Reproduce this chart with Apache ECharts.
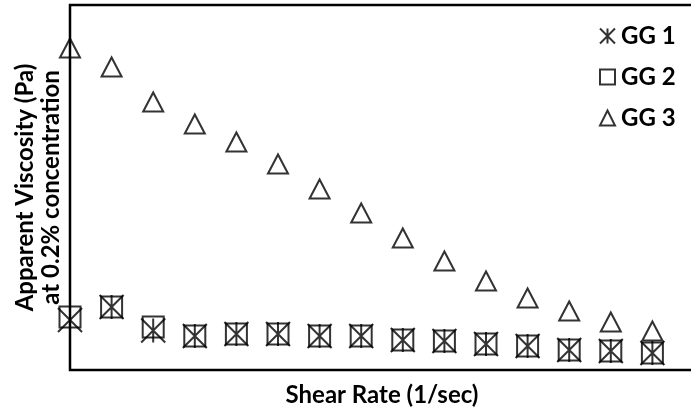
<!DOCTYPE html>
<html>
<head>
<meta charset="utf-8">
<script src="https://cdn.jsdelivr.net/npm/echarts@6/dist/echarts.min.js"></script>
<style>
  html, body { margin: 0; padding: 0; background: #fff; }
  #chart { width: 691px; height: 410px; }
</style>
</head>
<body>
<div id="chart"></div>
<script>
// Shear rate steps (x positions of the measurements)
const shearRate = [0, 1, 2, 3, 4, 5, 6, 7, 8, 9, 10, 11, 12, 13, 14];

// Apparent viscosity readings per sample
const gg1 = [5.0, 6.3, 3.95, 3.4, 3.6, 3.6, 3.4, 3.4, 3.0, 2.9, 2.6, 2.4, 2.0, 1.9, 1.7];
const gg2 = [5.3, 6.3, 4.3, 3.4, 3.6, 3.6, 3.4, 3.4, 3.0, 2.9, 2.6, 2.4, 2.0, 1.9, 1.7];
const gg3 = [32.2, 30.3, 26.8, 24.6, 22.8, 20.6, 18.1, 15.7, 13.2, 10.9, 8.9, 7.2, 5.9, 4.8, 3.9];

const seriesNames = ['GG 1', 'GG 2', 'GG 3'];

const FONT = 'Lato, "Open Sans", sans-serif';
const asterisk = 'path://M0,0L20,20M20,0L0,20M10,0L10,20';

function pairs(values) {
  return shearRate.map((x, i) => [x, values[i]]);
}

const markerStyle = { color: 'rgba(0,0,0,0)', borderColor: '#000', borderWidth: 2 };

const chart = echarts.init(document.getElementById('chart'), null, { renderer: 'canvas' });
chart.setOption({
  animation: false,
  backgroundColor: '#fff',
  grid: {
    left: 70, top: 5, right: -3, bottom: 40,
    outerBoundsMode: 'none',
    show: true,
    borderColor: '#000',
    borderWidth: 2.5,
    backgroundColor: 'transparent'
  },
  legend: {
    orient: 'vertical',
    left: 594,
    top: 19,
    itemWidth: 15,
    itemHeight: 15,
    itemGap: 17,
    textStyle: { fontFamily: FONT, fontWeight: 'bold', fontSize: 24, lineHeight: 24, color: '#000', padding: [0, 0, 0, 1] },
    data: seriesNames
  },
  xAxis: {
    type: 'value',
    min: 0,
    max: 15,
    name: 'Shear Rate (1/sec)',
    nameLocation: 'middle',
    nameGap: 13,
    nameTextStyle: { fontFamily: FONT, fontWeight: 'bold', fontSize: 24, color: '#000' },
    axisLine: { show: false },
    axisTick: { show: false },
    axisLabel: { show: false },
    splitLine: { show: false }
  },
  yAxis: {
    type: 'value',
    min: 0,
    max: 36.5,
    name: 'Apparent Viscosity (Pa)\nat 0.2% concentration',
    nameLocation: 'middle',
    nameRotate: 90,
    nameGap: 6,
    nameTextStyle: { fontFamily: FONT, fontWeight: 'bold', fontSize: 24, lineHeight: 26, color: '#000' },
    axisLine: { show: false },
    axisTick: { show: false },
    axisLabel: { show: false },
    splitLine: { show: false }
  },
  series: [
    {
      name: seriesNames[0],
      type: 'scatter',
      symbol: asterisk,
      symbolSize: 24,
      itemStyle: markerStyle,
      data: pairs(gg1)
    },
    {
      name: seriesNames[1],
      type: 'scatter',
      symbol: 'rect',
      symbolSize: 21,
      itemStyle: markerStyle,
      data: pairs(gg2)
    },
    {
      name: seriesNames[2],
      type: 'scatter',
      symbol: 'triangle',
      symbolSize: [20, 19],
      itemStyle: markerStyle,
      data: pairs(gg3)
    }
  ]
});
</script>
</body>
</html>
